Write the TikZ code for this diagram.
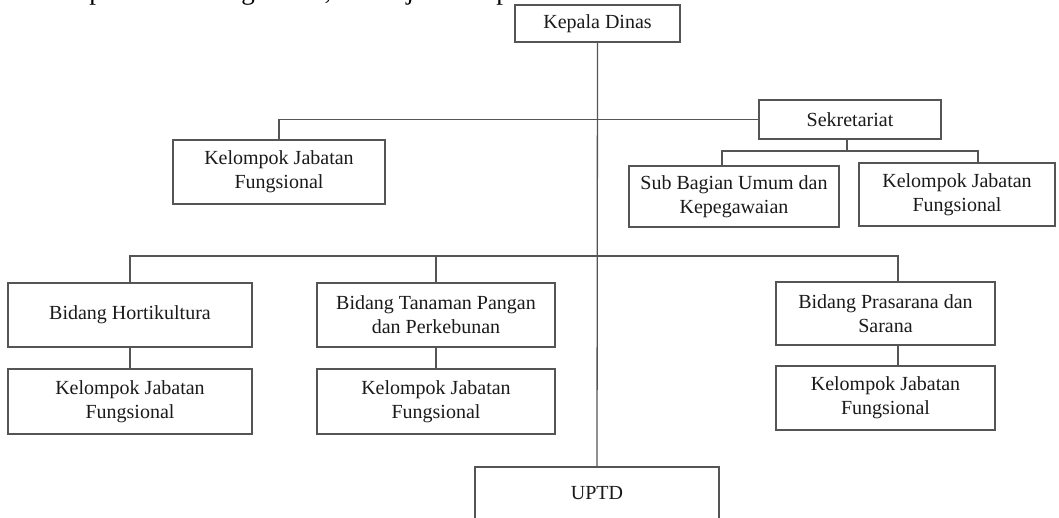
\documentclass[tikz,border=0pt]{standalone}
\usepackage{fontspec}
\setmainfont{Liberation Serif}
\definecolor{linec}{HTML}{555555}
\definecolor{txtc}{HTML}{1A1A1A}
\tikzset{
  x=1pt, y=-1pt,
  orgbox/.style={draw=linec, line width=1.3pt, inner sep=0pt, align=center,
    text=txtc, font=\fontsize{20}{24}\selectfont},
  link/.style={draw=linec, line width=1.3pt},
  toptxt/.style={inner sep=0pt, anchor=base, text=black, font=\fontsize{27}{30}\selectfont},
}
\begin{document}
\begin{tikzpicture}
\useasboundingbox (0,0) rectangle (1059,517);
\begin{scope}
\clip (0,0) rectangle (1059,517);
% clipped line of text above the chart
\node[toptxt] (t1) at (96,-1) {p};
\node[toptxt] (t2) at (248,-1) {g};
\node[toptxt] (t3) at (328,-1) {,};
\node[toptxt] (t4) at (410,-1) {j};
\node[toptxt] (t5) at (503,-1) {p};

% boxes
\node[orgbox, minimum width=165, minimum height=37] (kd) at (597.5,23.5) {Kepala Dinas};
\node[orgbox, minimum width=182, minimum height=39] (sek) at (850,119.5) {Sekretariat};
\node[orgbox, minimum width=212, minimum height=64] (kjf0) at (279,172) {Kelompok Jabatan\\Fungsional};
\node[orgbox, minimum width=210, minimum height=61] (sub) at (734,196.5) {Sub Bagian Umum dan\\Kepegawaian};
\node[orgbox, minimum width=196, minimum height=63] (kjfs) at (957,194.5) {Kelompok Jabatan\\Fungsional};

\node[orgbox, minimum width=244, minimum height=64] (hort) at (130,315) {Bidang Hortikultura};
\node[orgbox, minimum width=238, minimum height=64] (tan) at (436,315) {Bidang Tanaman Pangan\\dan Perkebunan};
\node[orgbox, minimum width=219, minimum height=63] (pras) at (885.5,313.5) {Bidang Prasarana dan\\Sarana};

\node[orgbox, minimum width=244, minimum height=65] (kjf1) at (130,401.5) {Kelompok Jabatan\\Fungsional};
\node[orgbox, minimum width=238, minimum height=65] (kjf2) at (436,401.5) {Kelompok Jabatan\\Fungsional};
\node[orgbox, minimum width=219, minimum height=64] (kjf3) at (885.5,398) {Kelompok Jabatan\\Fungsional};

\node[orgbox, minimum width=244, minimum height=52] (uptd) at (597,493) {UPTD};

% junction points
\coordinate (sj) at (847,151);
\coordinate (sl) at (722,151);
\coordinate (sr) at (978,151);
\coordinate (bj) at (597,256);
\coordinate (br) at (898,256);

% connectors
\draw[link] (kd.south) -- (uptd.north);
\draw[link] (sek.west) -| (kjf0.north);
\draw[link] (sek.south -| sj) -- (sj);
\draw[link] (sub.north -| sl) -- (sl) -- (sr) -- (kjfs.north -| sr);
\draw[link] (hort.north) |- (bj) -- (br) -- (pras.north -| br);
\draw[link] (tan.north) -- (tan.north |- bj);
\draw[link] (hort.south) -- (kjf1.north);
\draw[link] (tan.south) -- (kjf2.north);
\draw[link] (pras.south -| br) -- (kjf3.north -| br);
\end{scope}
\end{tikzpicture}
\end{document}
